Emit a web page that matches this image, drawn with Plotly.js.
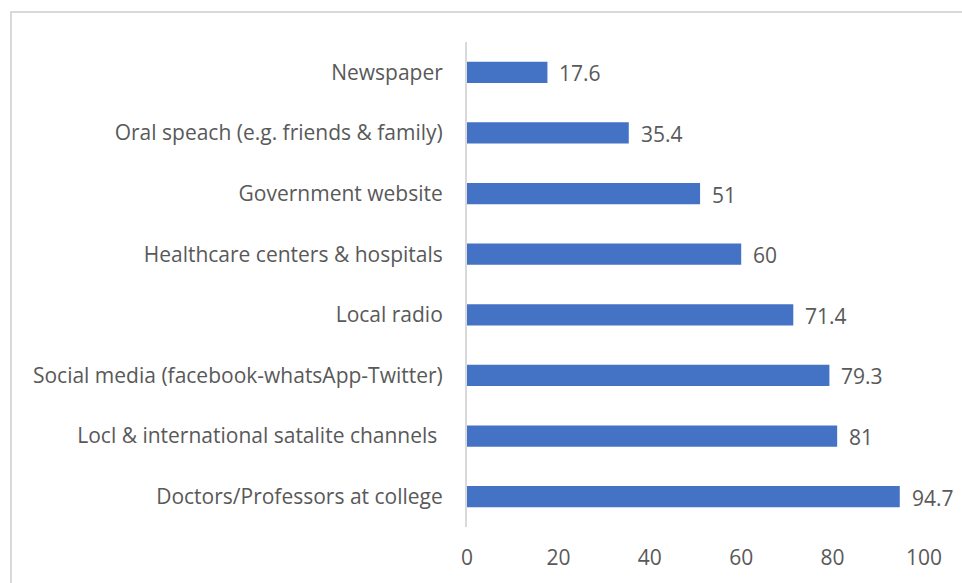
<!DOCTYPE html>
<html>
<head>
<meta charset="utf-8">
<script src="https://cdn.plot.ly/plotly-3.0.1.min.js"></script>
<style>
html,body{margin:0;padding:0;background:#fff;overflow:hidden;}
#frame{position:absolute;left:10px;top:11px;width:980px;height:600px;border:2px solid #d9d9d9;box-sizing:border-box;}
#chart{position:absolute;left:0;top:0;width:962px;height:583px;}
</style>
</head>
<body>
<div id="frame"></div>
<div id="chart"></div>
<script>
const categories = [
  "Doctors/Professors at college",
  "Locl & international satalite channels ",
  "Social media (facebook-whatsApp-Twitter)",
  "Local radio",
  "Healthcare centers & hospitals",
  "Government website",
  "Oral speach (e.g. friends & family)",
  "Newspaper"
];
const values = [94.7, 81, 79.3, 71.4, 60, 51, 35.4, 17.6];
const xTicks = [0, 20, 40, 60, 80, 100];

const font = {family: "'Open Sans', sans-serif", size: 21, color: "#595959"};

Plotly.newPlot("chart", [{
  type: "bar",
  orientation: "h",
  y: categories,
  x: values,
  marker: {color: "#4472C4"},
  hoverinfo: "none"
}], {
  width: 962, height: 583,
  margin: {l: 467, r: 38, t: 42, b: 56},
  paper_bgcolor: "rgba(0,0,0,0)",
  plot_bgcolor: "rgba(0,0,0,0)",
  bargap: 0.65,
  showlegend: false,
  font: font,
  annotations: values.map((v, i) => ({
    x: v, y: categories[i], xref: "x", yref: "y",
    text: String(v), showarrow: false, xanchor: "left", xshift: 10, yshift: -1,
    font: font
  })),
  xaxis: {
    range: [0, 100], tickvals: xTicks, ticktext: xTicks.map(String),
    showgrid: false, zeroline: false, showline: false, ticks: "",
    tickfont: font, ticklabelstandoff: 16
  },
  yaxis: {
    showgrid: false, zeroline: false, showline: true, linecolor: "#d9d9d9", linewidth: 2,
    ticks: "", tickfont: font, ticklabelstandoff: 18
  }
}, {displayModeBar: false, staticPlot: true});
</script>
</body>
</html>
